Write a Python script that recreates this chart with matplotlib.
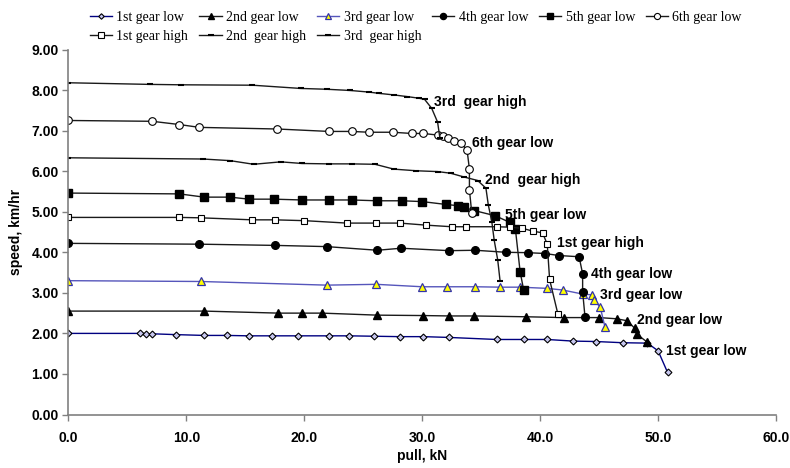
import numpy as np
import matplotlib
matplotlib.use("Agg")
import matplotlib.pyplot as plt

# pull (kN) and speed (km/hr)
x_1low = [0, 6.1, 6.6, 7.1, 9.1, 11.5, 13.4, 15.3, 17.3, 19.5, 22.1, 23.8, 25.9, 28.1, 30.1,
          32.3, 36.3, 38.6, 40.6, 42.8, 44.7, 47.0, 49.1, 50.0, 50.8]
y_1low = [2.00, 2.00, 1.99, 1.99, 1.97, 1.95, 1.95, 1.94, 1.94, 1.94, 1.94, 1.94, 1.93, 1.92, 1.92,
          1.90, 1.85, 1.85, 1.85, 1.81, 1.80, 1.77, 1.76, 1.57, 1.04]

x_2low = [0, 11.5, 17.8, 19.8, 21.5, 26.2, 30.1, 32.3, 34.4, 38.8, 42.0, 45.0, 46.5, 47.4, 48.0, 48.2, 49.1]
y_2low = [2.55, 2.55, 2.50, 2.50, 2.50, 2.45, 2.44, 2.43, 2.43, 2.41, 2.39, 2.39, 2.36, 2.31, 2.13, 1.98, 1.78]

x_3low = [0, 11.2, 21.9, 26.1, 30.0, 32.1, 34.5, 36.6, 38.3, 40.6, 41.9, 43.6, 44.4, 44.6, 45.1, 45.5]
y_3low = [3.30, 3.28, 3.19, 3.21, 3.15, 3.15, 3.15, 3.14, 3.14, 3.11, 3.07, 2.97, 2.95, 2.82, 2.64, 2.15]

x_4low = [0, 11.1, 17.5, 21.9, 26.2, 28.2, 32.3, 34.5, 37.1, 39.0, 40.4, 41.6, 43.3, 43.6, 43.6, 43.8]
y_4low = [4.22, 4.20, 4.17, 4.14, 4.05, 4.10, 4.04, 4.05, 4.00, 3.99, 3.97, 3.92, 3.89, 3.47, 3.03, 2.41]

x_5low = [0, 9.4, 11.5, 13.7, 15.3, 17.4, 19.8, 22.1, 24.0, 26.2, 28.3, 30.0, 32.0, 33.0, 33.5, 34.4,
          36.2, 37.4, 37.9, 38.3, 38.6]
y_5low = [5.46, 5.44, 5.36, 5.36, 5.31, 5.31, 5.29, 5.29, 5.29, 5.27, 5.27, 5.25, 5.18, 5.15, 5.11, 5.03,
          4.90, 4.74, 4.57, 3.52, 3.07]

x_6low = [0, 7.1, 9.4, 11.1, 17.7, 22.1, 24.0, 25.5, 27.5, 29.1, 30.1, 31.3, 31.8, 32.2, 32.7, 33.3,
          33.8, 34.0, 34.0, 34.2]
y_6low = [7.25, 7.23, 7.15, 7.08, 7.04, 6.98, 6.98, 6.96, 6.96, 6.93, 6.93, 6.89, 6.87, 6.81, 6.75, 6.69,
          6.52, 6.05, 5.54, 4.96]

x_1high = [0, 9.4, 11.2, 15.6, 17.5, 20.0, 23.6, 26.1, 28.1, 30.3, 32.5, 33.7, 36.3, 37.4, 38.5, 39.4,
           40.2, 40.6, 40.8, 41.5]
y_1high = [4.86, 4.86, 4.85, 4.80, 4.80, 4.78, 4.72, 4.72, 4.72, 4.67, 4.63, 4.63, 4.63, 4.62, 4.59, 4.52,
           4.48, 4.20, 3.33, 2.48]

x_2high = [0, 11.4, 13.7, 15.7, 18.0, 19.8, 22.1, 24.0, 26.0, 27.6, 29.5, 31.3, 32.4, 33.5, 34.7, 35.4,
           35.6, 35.9, 36.1, 36.4, 36.6]
y_2high = [6.33, 6.30, 6.26, 6.17, 6.23, 6.19, 6.18, 6.18, 6.17, 6.05, 6.01, 5.99, 5.95, 5.86, 5.77, 5.58,
           5.17, 4.75, 4.30, 3.81, 3.29]

x_3high = [0, 6.9, 9.5, 15.6, 19.7, 21.9, 23.9, 25.5, 26.3, 27.6, 28.7, 29.7, 30.2, 30.8, 31.3, 31.5]
y_3high = [8.18, 8.14, 8.13, 8.12, 8.04, 8.02, 7.99, 7.95, 7.92, 7.88, 7.84, 7.80, 7.77, 7.55, 7.21, 6.81]

# curve labels and where they sit
label_text = ["3rd  gear high", "6th gear low", "2nd  gear high", "5th gear low", "1st gear high",
              "4th gear low", "3rd gear low", "2nd gear low", "1st gear low"]
label_x = [31.0, 34.2, 35.3, 37.0, 41.4, 44.3, 45.1, 48.2, 50.7]
label_y = [7.71, 6.69, 5.78, 4.92, 4.22, 3.46, 2.95, 2.33, 1.57]

fig = plt.figure(figsize=(7.9, 4.68), dpi=100)
ax = fig.add_axes([0.0867, 0.1143, 0.8956, 0.7799])

lc = "#1a1a1a"
h = {}
h["1st gear low"], = ax.plot(x_1low, y_1low, color="#000080", lw=1, marker="D", ms=3.5,
                             mfc="#c8c8f0", mec="black", mew=0.8)
h["2nd gear low"], = ax.plot(x_2low, y_2low, color=lc, lw=1, marker="^", ms=5.5,
                             mfc="black", mec="black")
h["3rd gear low"], = ax.plot(x_3low, y_3low, color="#5555bb", lw=1, marker="^", ms=5.5,
                             mfc="#ffff00", mec="#3333aa", mew=0.9)
h["4th gear low"], = ax.plot(x_4low, y_4low, color=lc, lw=1, marker="o", ms=5.5,
                             mfc="black", mec="black")
h["5th gear low"], = ax.plot(x_5low, y_5low, color=lc, lw=1, marker="s", ms=6,
                             mfc="black", mec="black")
h["6th gear low"], = ax.plot(x_6low, y_6low, color=lc, lw=1, marker="o", ms=5.5,
                             mfc="white", mec="black", mew=0.8)
h["1st gear high"], = ax.plot(x_1high, y_1high, color=lc, lw=1, marker="s", ms=5,
                              mfc="white", mec="black", mew=0.8)
h["2nd  gear high"], = ax.plot(x_2high, y_2high, color=lc, lw=1, marker="_", ms=5,
                               mec="black", mew=1.5)
h["3rd  gear high"], = ax.plot(x_3high, y_3high, color=lc, lw=1, marker="_", ms=5,
                               mec="black", mew=1.5)

for t, tx, ty in zip(label_text, label_x, label_y):
    ax.text(tx, ty, t, fontsize=10, fontweight="bold", family="Liberation Sans",
            ha="left", va="center")

ax.set_xlim(0, 60)
ax.set_ylim(0, 9)
ax.set_xticks(np.arange(0, 61, 10))
ax.set_yticks(np.arange(0, 9.1, 1))
ax.set_xticklabels(["%.1f" % v for v in np.arange(0, 61, 10)])
ax.set_yticklabels(["%.2f" % v for v in np.arange(0, 9.1, 1)])
for lab in ax.get_xticklabels() + ax.get_yticklabels():
    lab.set_fontweight("bold")
    lab.set_family("Liberation Sans")
    lab.set_fontsize(10)

for s in ["top", "right"]:
    ax.spines[s].set_visible(False)
for s in ["left", "bottom"]:
    ax.spines[s].set_color("#808080")
    ax.spines[s].set_linewidth(1.2)
ax.tick_params(direction="out", length=4, width=1, color="#808080", pad=8)
ax.tick_params(axis="y", pad=3)

ax.set_xlabel("pull, kN", fontsize=10, fontweight="bold", family="Liberation Sans", labelpad=3)
ax.set_ylabel("speed, km/hr", fontsize=10, fontweight="bold", family="Liberation Sans", labelpad=6)

# legend: 6 on the first row, 3 on the second (matplotlib fills by column)
order = ["1st gear low", "1st gear high", "2nd gear low", "2nd  gear high", "3rd gear low",
         "3rd  gear high", "4th gear low", "5th gear low", "6th gear low"]
fig.legend([h[k] for k in order], order, loc="upper left", bbox_to_anchor=(0.1, 1.0),
           ncol=6, frameon=False, prop={"family": "Liberation Serif", "size": 10},
           handlelength=1.6, handletextpad=0.3, columnspacing=0.8, labelspacing=0.45,
           borderaxespad=0.4, markerscale=0.8)

fig.savefig("out.png", dpi=100)
